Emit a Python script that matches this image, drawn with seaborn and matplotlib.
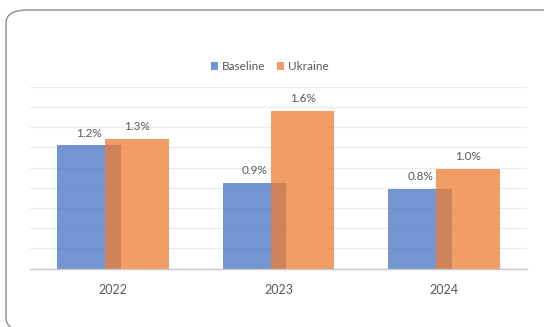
import matplotlib
matplotlib.use("Agg")
import matplotlib.pyplot as plt
from matplotlib.patches import FancyBboxPatch
import seaborn as sns
import pandas as pd

years = ["2022", "2023", "2024"]
scenarios = ["Baseline", "Ukraine"]
baseline = [1.22, 0.85, 0.79]
ukraine = [1.28, 1.56, 0.99]
baseline_labels = ["1.2%", "0.9%", "0.8%"]
ukraine_labels = ["1.3%", "1.6%", "1.0%"]

df = pd.DataFrame({
    "year": years * 2,
    "value": baseline + ukraine,
    "scenario": [scenarios[0]] * 3 + [scenarios[1]] * 3,
})

sns.set_theme(style="white")
plt.rcParams["font.family"] = ["Lato", "DejaVu Sans"]

fig = plt.figure(figsize=(5.44, 3.27), dpi=100)
ax = fig.add_axes([30 / 544, (327 - 268.5) / 327, (527 - 30) / 544, (268.5 - 87) / 327])

palette = {"Baseline": "#4472C4", "Ukraine": "#ED7D31"}
sns.barplot(data=df, x="year", y="value", hue="scenario", hue_order=scenarios,
            palette=palette, width=0.58, gap=-0.331, alpha=0.75, ax=ax,
            legend=True, saturation=1, errorbar=None, linewidth=0)

ax.set_xlim(-0.5, 2.5)
ax.set_ylim(0, 1.8)
ax.set_yticks([i * 0.2 for i in range(10)])
ax.yaxis.grid(True, color="#ececec", linewidth=0.8)
ax.set_axisbelow(True)
ax.tick_params(axis="y", left=False, labelleft=False)
ax.tick_params(axis="x", bottom=False, labelsize=9, colors="#595959", pad=5)
ax.set_xlabel("")
ax.set_ylabel("")
for s in ["top", "right", "left"]:
    ax.spines[s].set_visible(False)
ax.spines["bottom"].set_color("#c8c8c8")
ax.spines["bottom"].set_linewidth(1.0)

for cont, labels in zip(ax.containers, [baseline_labels, ukraine_labels]):
    ax.bar_label(cont, labels=labels, padding=5, fontsize=8.5, color="#595959")

handles, lbls = ax.get_legend_handles_labels()
ax.get_legend().remove()
fig.legend(handles, lbls, loc="center", bbox_to_anchor=(270 / 544, 1 - 66.7 / 327),
           ncol=2, frameon=False, fontsize=8.5, labelcolor="#595959",
           handlelength=0.6, handleheight=0.6, handletextpad=0.3, columnspacing=1.0)

border = FancyBboxPatch((6 / 544, -0.012), 1.2, 1 - 10 / 327 + 0.012,
                        boxstyle="round,pad=0,rounding_size=0.04",
                        transform=fig.transFigure, facecolor="none",
                        edgecolor="#8c8c8c", linewidth=1.0, clip_on=False)
fig.patches.append(border)

fig.savefig("out.png", dpi=100)
